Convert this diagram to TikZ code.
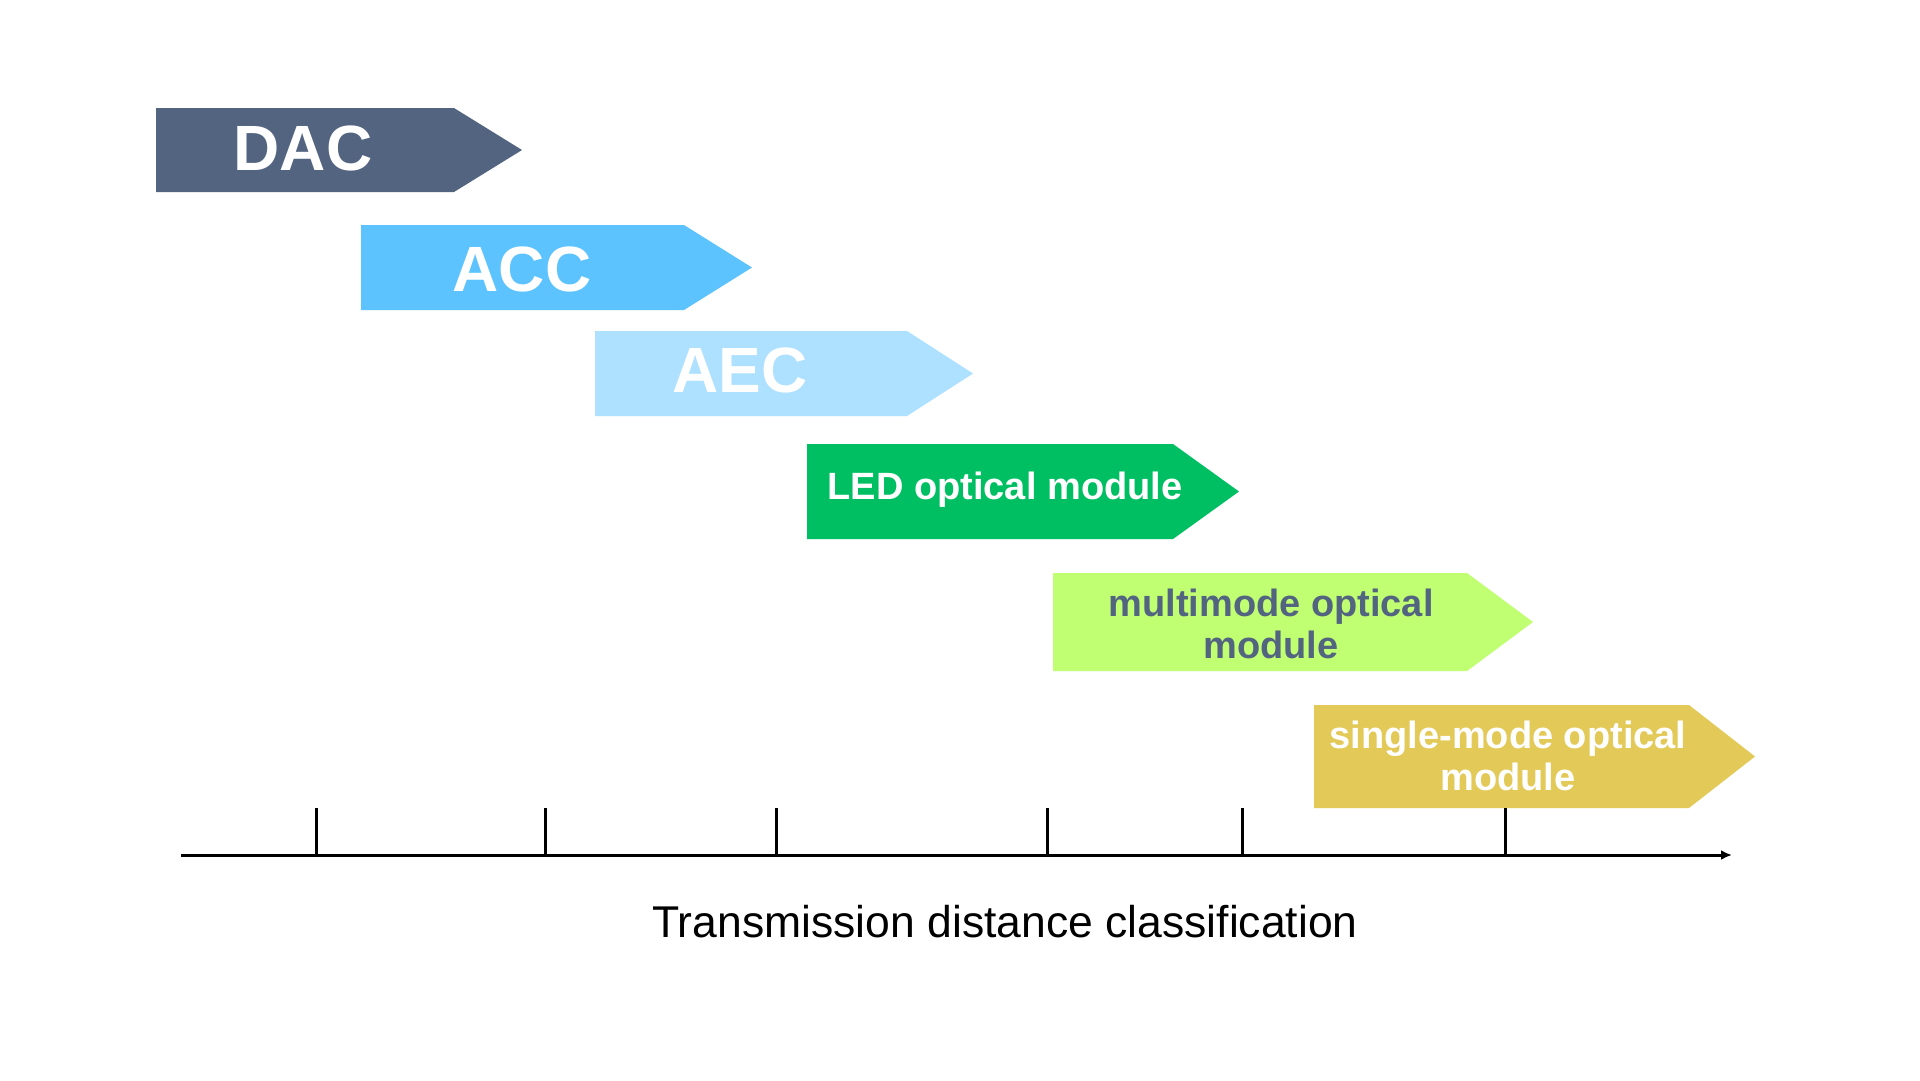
\documentclass[tikz,border=0pt]{standalone}
\usepackage{fontspec}
\setmainfont{Liberation Sans}
\usetikzlibrary{arrows.meta}
\definecolor{cdac}{HTML}{526480}
\definecolor{cacc}{HTML}{5CC3FF}
\definecolor{caec}{HTML}{AEE0FF}
\definecolor{cled}{HTML}{00BF63}
\definecolor{cmm}{HTML}{C1FF72}
\definecolor{csm}{HTML}{E3C958}
\newcommand\arrowbox[7]{% name, x1, x2, xtip, ytop, ybot, fill
  \fill[#7] (#2,#5) -- (#3,#5) -- (#4,{(#5+#6)/2}) -- (#3,#6) -- (#2,#6) -- cycle;
  \coordinate (#1) at ({(#2+#3)/2},{(#5+#6)/2});
}
\begin{document}
\begin{tikzpicture}[x=1pt,y=-1pt,
  bigtext/.style={text=white,font=\fontsize{64}{70}\selectfont\bfseries,inner sep=0pt},
  midtext/.style={font=\fontsize{38}{42}\selectfont\bfseries,inner sep=0pt,align=center},
  axisline/.style={line width=3pt,black},
]
\useasboundingbox[fill=white] (0,0) rectangle (1920,1080);
\arrowbox{dac}{156}{454}{522}{108}{192}{cdac}
\arrowbox{acc}{361}{684}{752}{225}{310}{cacc}
\arrowbox{aec}{595}{907}{973}{331}{416}{caec}
\arrowbox{led}{807}{1173}{1239}{444}{539}{cled}
\arrowbox{mm}{1053}{1467}{1533}{573}{671}{cmm}
\arrowbox{sm}{1314}{1689}{1755}{705}{808}{csm}
\node[bigtext] (tdac) at (303,148) {DAC};
\node[bigtext] (tacc) at (522,269) {ACC};
\node[bigtext] (taec) at (740,370) {AEC};
\node[midtext,text=white] (tled) at (1005,490) {LED optical module};
\node[midtext,text=cdac] (tmm) at (1271,624) {multimode optical\\module};
\node[midtext,text=white] (tsm) at (1508,756) {single-mode optical\\module};
% axis
\coordinate (a0) at (181,855);
\coordinate (a1) at (1732,855);
\draw[axisline,-{Latex[length=11pt,width=10pt]}] (a0) -- (a1);
\foreach \x [count=\i] in {316,545,776,1047,1242,1505}{
  \coordinate (tk\i) at (\x,855);
  \draw[axisline] (tk\i) -- ++(0,-47);
}
\node[font=\fontsize{44.5}{50}\selectfont,inner sep=0pt] (xlabel) at (1005,922) {Transmission distance classification};
\end{tikzpicture}
\end{document}
